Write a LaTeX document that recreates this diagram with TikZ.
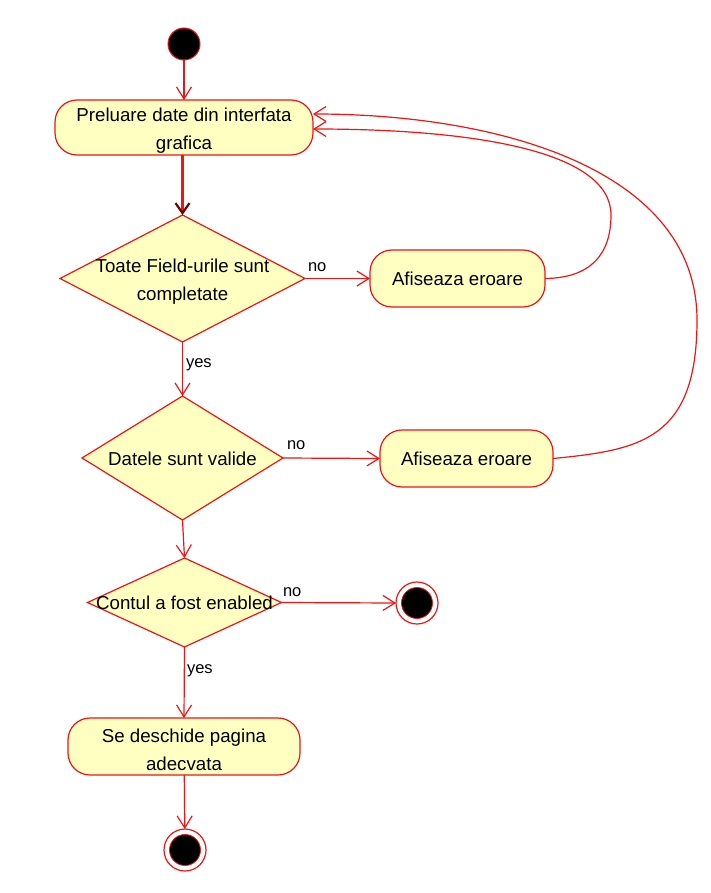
\documentclass[tikz,border=0pt]{standalone}
\usepackage{fontspec}
\setmainfont{Liberation Sans}
\usetikzlibrary{arrows.meta,shapes.geometric}
\definecolor{actfill}{RGB}{255,255,194}
\definecolor{linered}{RGB}{240,20,20}
\definecolor{tipdark}{RGB}{110,0,0}
\newcommand{\topstrut}{\rule{0pt}{20.5pt}}
\begin{document}
\begin{tikzpicture}[x=1pt,y=-1pt,
  every node/.style={inner sep=0pt,outer sep=0pt},
  act/.style={draw=linered,fill=actfill,line width=1.2pt,rounded corners=22pt,
    align=center,font=\fontsize{18.7}{28}\selectfont},
  choice/.style={draw=linered,fill=actfill,line width=1.2pt,diamond},
  ctext/.style={align=center,font=\fontsize{18.7}{28}\selectfont},
  guard/.style={anchor=west,font=\fontsize{16.5}{18}\selectfont},
  startnode/.style={circle,draw=linered,fill=black,line width=1pt,minimum size=32pt},
  endring/.style={circle,draw=linered,fill=white,line width=1.2pt,minimum size=42pt},
  enddot/.style={circle,draw=linered,fill=black,line width=0.8pt,minimum size=31pt},
  flow/.style={draw=linered,line width=1.2pt,-{Straight Barb[length=12pt,width=15pt,line width=1.2pt]}},
  strongflow/.style={draw=linered,line width=2.4pt,-{Straight Barb[length=10pt,width=14pt,line width=2.2pt,color=tipdark]}}]
\useasboundingbox (0,0) rectangle (710,893);

% activities
\node[startnode] (init) at (184,44) {};
\node[act,minimum width=258pt,minimum height=55pt] (prel) at (184,127.5) {\topstrut Preluare date din interfata\\grafica};
\node[choice,minimum width=245pt,minimum height=127pt] (d1) at (182.5,278.5) {};
\node[ctext] (d1t) at (d1) {\topstrut Toate Field-urile sunt\\completate};
\node[act,minimum width=175pt,minimum height=57pt] (err1) at (457.5,278.5) {Afiseaza eroare};
\node[choice,minimum width=201pt,minimum height=124pt] (d2) at (182.5,458) {};
\node[ctext] (d2t) at (182.5,459) {Datele sunt valide};
\node[act,minimum width=173pt,minimum height=57pt] (err2) at (466.5,458.5) {Afiseaza eroare};
\node[choice,minimum width=194pt,minimum height=89pt] (d3) at (184.5,602.5) {};
\node[ctext] (d3t) at (184.5,603) {Contul a fost enabled};
\node[endring] (end1) at (417,603) {};
\node[enddot] (end1dot) at (end1) {};
\node[act,minimum width=232pt,minimum height=57pt] (open) at (184,746.5) {\topstrut Se deschide pagina\\adecvata};
\node[endring] (end2) at (185,850) {};
\node[enddot] (end2dot) at (end2) {};

% guard labels
\node[guard] (no1) at (308,267) {no};
\node[guard] (no2) at (287,445.5) {no};
\node[guard] (no3) at (283,592) {no};
\node[guard] (yes1) at (186,365) {yes};
\node[guard] (yes2) at (187,671) {yes};

% transitions
\draw[flow] (init) -- (prel);
\draw[strongflow] (prel.south -| d1.north) -- (d1.north);
\draw[flow] (d1.east) -- (err1.west);
\draw[flow] (d1.south) -- (d2.north);
\draw[flow] (d2.east) -- (err2.west);
\draw[flow] (d2.south) -- (d3.north);
\draw[flow] (d3.east) -- (end1.west);
\draw[flow] (d3.south) -- (open.north);
\draw[flow] (open) -- (end2);

% error loops back to the input step
\draw[flow] (err1.east) .. controls (590,278) and (611,255) .. (611,215)
  .. controls (611,150) and (470,129) .. ([yshift=-1.5pt]prel.east);
\draw[flow] (err2.east) .. controls (640,450) and (697,440) .. (697,320)
  .. controls (697,170) and (500,114) .. ([yshift=13.5pt]prel.east);
\end{tikzpicture}
\end{document}
